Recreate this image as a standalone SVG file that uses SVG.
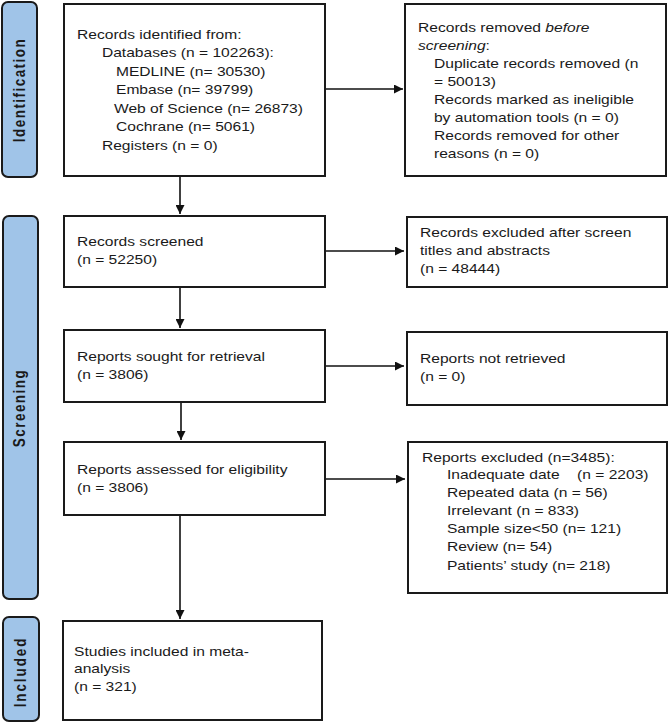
<svg xmlns="http://www.w3.org/2000/svg" width="669" height="723" viewBox="0 0 669 723">
<style>
.bg{fill:#ffffff}
.box{fill:#ffffff;stroke:#1a1a1a;stroke-width:2}
.side{fill:#a0c4e8;stroke:#1a1a1a;stroke-width:2}
.t{font-family:"Liberation Sans",Arial,Helvetica,sans-serif;font-size:13px;fill:#1a1a1a}
.s{font-family:"Liberation Sans",Arial,Helvetica,sans-serif;font-size:13.5px;font-weight:bold;fill:#1a1a1a;text-anchor:middle;letter-spacing:1.45px}
.c{stroke:#111111;stroke-width:1.6;fill:none}
</style>
<defs>
<marker id="ah" viewBox="0 0 10 10" refX="10" refY="5" markerWidth="9" markerHeight="9" markerUnits="userSpaceOnUse" orient="auto">
<path d="M0,0 L10,5 L0,10 Z" fill="#111111"/>
</marker>
</defs>
<rect class="bg" x="0" y="0" width="669" height="723"/>

<g id="side-identification">
<rect class="side" x="2" y="2" width="35" height="175" rx="6"/>
<text class="s" transform="translate(19,90) scale(1.2,1) rotate(-90)" x="0" y="4.8">Identification</text>
</g>
<g id="side-screening">
<rect class="side" x="3" y="216" width="35" height="383" rx="6"/>
<text class="s" transform="translate(19,408) scale(1.2,1) rotate(-90)" x="0" y="4.8">Screening</text>
</g>
<g id="side-included">
<rect class="side" x="3" y="617" width="36" height="104" rx="6"/>
<text class="s" transform="translate(20,672) scale(1.2,1) rotate(-90)" x="0" y="4.8" style="letter-spacing:1.9px">Included</text>
</g>

<g id="connectors">
<line class="c" x1="325" y1="89" x2="403" y2="89" marker-end="url(#ah)"/>
<line class="c" x1="180" y1="176" x2="180" y2="214" marker-end="url(#ah)"/>
<line class="c" x1="325" y1="251" x2="404" y2="251" marker-end="url(#ah)"/>
<line class="c" x1="180" y1="287" x2="180" y2="328" marker-end="url(#ah)"/>
<line class="c" x1="325" y1="366" x2="404" y2="366" marker-end="url(#ah)"/>
<line class="c" x1="181" y1="402" x2="181" y2="440" marker-end="url(#ah)"/>
<line class="c" x1="325" y1="479" x2="405" y2="479" marker-end="url(#ah)"/>
<line class="c" x1="180" y1="515" x2="180" y2="619" marker-end="url(#ah)"/>
</g>

<g id="identified">
<rect class="box" x="64" y="4" width="261" height="172"/>
<text class="t" transform="translate(77,0) scale(1.2,1)">
<tspan x="0" y="39">Records identified from:</tspan>
<tspan x="20.8" y="57">Databases (n = 102263):</tspan>
<tspan x="32.5" y="76">MEDLINE (n= 30530)</tspan>
<tspan x="32.5" y="94">Embase (n= 39799)</tspan>
<tspan x="30.8" y="113">Web of Science (n= 26873)</tspan>
<tspan x="32.5" y="131">Cochrane (n= 5061)</tspan>
<tspan x="20.8" y="150">Registers (n = 0)</tspan>
</text>
</g>

<g id="removed">
<rect class="box" x="405" y="4" width="261" height="172"/>
<text class="t" transform="translate(418,0) scale(1.2,1)">
<tspan x="0" y="32">Records removed <tspan font-style="italic">before</tspan></tspan>
<tspan x="0" y="50"><tspan font-style="italic">screening</tspan>:</tspan>
<tspan x="13.3" y="68.5">Duplicate records removed (n</tspan>
<tspan x="13.3" y="86.5">= 50013)</tspan>
<tspan x="13.3" y="104.5">Records marked as ineligible</tspan>
<tspan x="13.3" y="122.5">by automation tools (n = 0)</tspan>
<tspan x="13.3" y="140.5">Records removed for other</tspan>
<tspan x="13.3" y="158.5">reasons (n = 0)</tspan>
</text>
</g>

<g id="screened">
<rect class="box" x="64" y="216" width="261" height="71"/>
<text class="t" transform="translate(77,0) scale(1.2,1)">
<tspan x="0" y="246">Records screened</tspan>
<tspan x="0" y="264">(n = 52250)</tspan>
</text>
</g>

<g id="excluded-screen">
<rect class="box" x="407" y="217" width="260" height="70"/>
<text class="t" transform="translate(420,0) scale(1.2,1)">
<tspan x="0" y="237">Records excluded after screen</tspan>
<tspan x="0" y="255">titles and abstracts</tspan>
<tspan x="0" y="273">(n = 48444)</tspan>
</text>
</g>

<g id="sought">
<rect class="box" x="64" y="330" width="261" height="72"/>
<text class="t" transform="translate(77,0) scale(1.2,1)">
<tspan x="0" y="361">Reports sought for retrieval</tspan>
<tspan x="0" y="379">(n = 3806)</tspan>
</text>
</g>

<g id="not-retrieved">
<rect class="box" x="407" y="332" width="260" height="73"/>
<text class="t" transform="translate(420,0) scale(1.2,1)">
<tspan x="0" y="363">Reports not retrieved</tspan>
<tspan x="0" y="381.5">(n = 0)</tspan>
</text>
</g>

<g id="assessed">
<rect class="box" x="64" y="442" width="261" height="73"/>
<text class="t" transform="translate(77,0) scale(1.2,1)">
<tspan x="0" y="474">Reports assessed for eligibility</tspan>
<tspan x="0" y="492">(n = 3806)</tspan>
</text>
</g>

<g id="reports-excluded">
<rect class="box" x="408" y="442" width="259" height="151"/>
<text class="t" transform="translate(422,0) scale(1.2,1)">
<tspan x="0" y="462">Reports excluded (n=3485):</tspan>
<tspan x="20.8" y="479">Inadequate date</tspan><tspan x="129.2" y="479">(n = 2203)</tspan>
<tspan x="20.8" y="497">Repeated data (n = 56)</tspan>
<tspan x="20.8" y="515">Irrelevant (n = 833)</tspan>
<tspan x="20.8" y="533">Sample size&lt;50 (n= 121)</tspan>
<tspan x="20.8" y="551">Review (n= 54)</tspan>
<tspan x="20.8" y="570">Patients’ study (n= 218)</tspan>
</text>
</g>

<g id="included">
<rect class="box" x="63" y="621" width="259" height="99"/>
<text class="t" transform="translate(74,0) scale(1.2,1)">
<tspan x="0" y="656">Studies included in meta-</tspan>
<tspan x="0" y="673.5">analysis</tspan>
<tspan x="0" y="691">(n = 321)</tspan>
</text>
</g>
</svg>
